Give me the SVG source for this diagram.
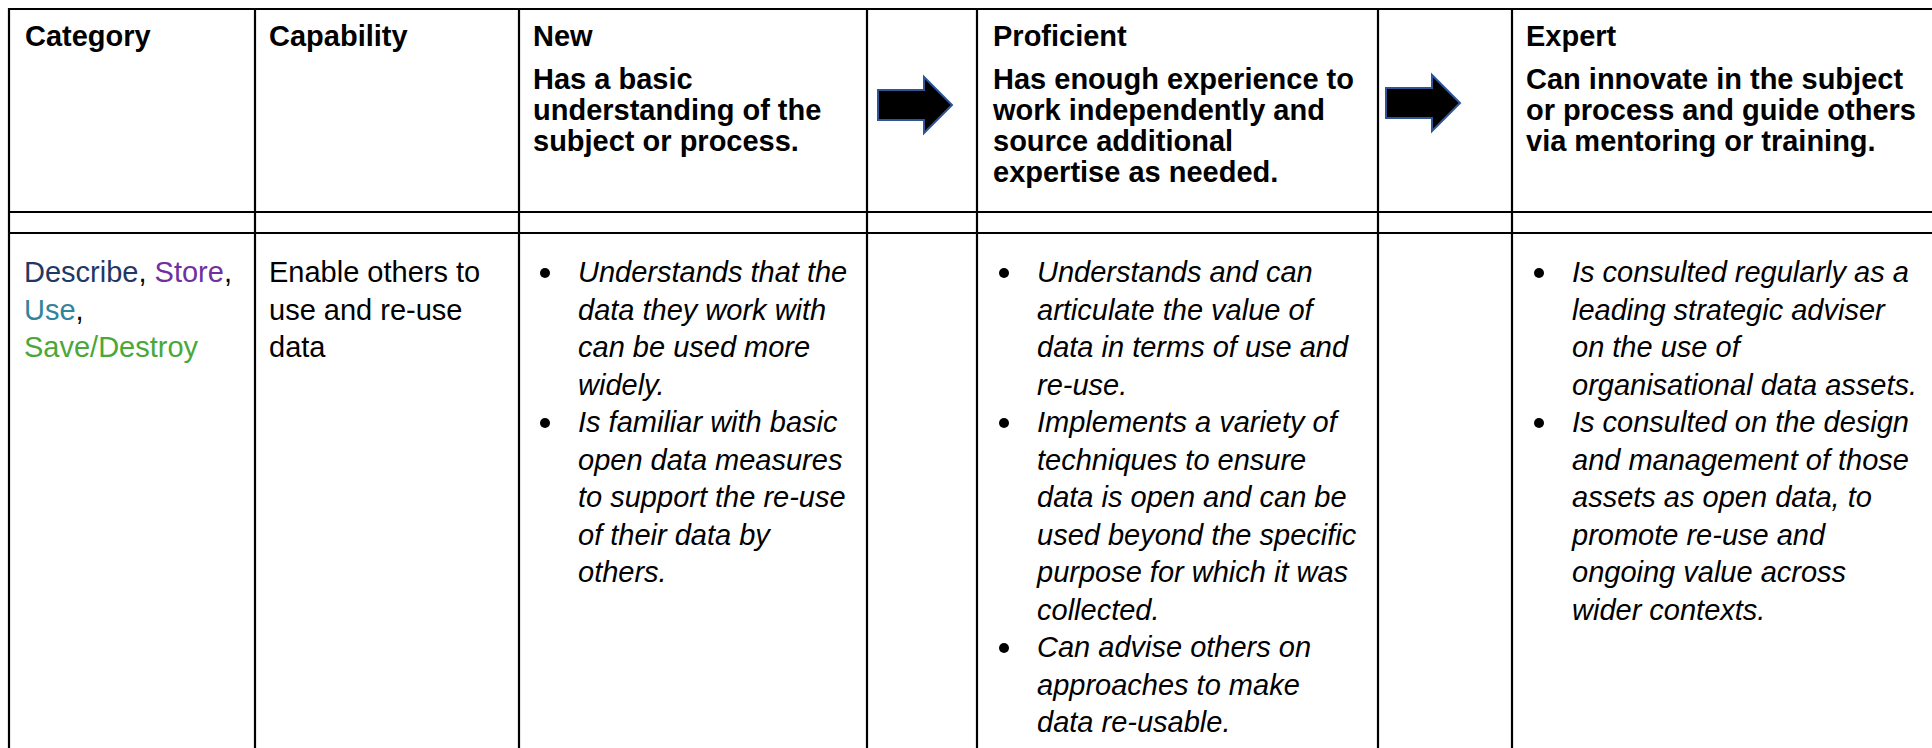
<svg xmlns="http://www.w3.org/2000/svg" width="1932" height="748" viewBox="0 0 1932 748">
<style>
text{font-family:"Liberation Sans",Arial,sans-serif;font-size:29px;fill:#000}
.h{font-weight:bold}
.b{font-style:italic}
.grid line{stroke:#000;stroke-width:2.2}
.arrow{fill:#000;stroke:#2F5597;stroke-width:2;stroke-linejoin:miter}
.dot{fill:#000}
</style>
<rect x="0" y="0" width="1932" height="748" fill="#fff"/>
<g class="grid" id="grid">
<line x1="9" y1="9" x2="1932" y2="9"/>
<line x1="9" y1="212" x2="1932" y2="212"/>
<line x1="9" y1="233" x2="1932" y2="233"/>
<line x1="9" y1="8" x2="9" y2="748"/>
<line x1="255" y1="8" x2="255" y2="748"/>
<line x1="519" y1="8" x2="519" y2="748"/>
<line x1="867" y1="8" x2="867" y2="748"/>
<line x1="977" y1="8" x2="977" y2="748"/>
<line x1="1378" y1="8" x2="1378" y2="748"/>
<line x1="1512" y1="8" x2="1512" y2="748"/>
</g>
<g id="header-category"><text class="h" x="25" y="46">Category</text></g>
<g id="header-capability"><text class="h" x="269" y="46">Capability</text></g>
<g id="header-new">
<text class="h" x="533" y="46">New</text>
<text class="h" x="533" y="89">Has a basic</text>
<text class="h" x="533" y="120">understanding of the</text>
<text class="h" x="533" y="151">subject or process.</text>
</g>
<g id="header-proficient">
<text class="h" x="993" y="46">Proficient</text>
<text class="h" x="993" y="89">Has enough experience to</text>
<text class="h" x="993" y="120">work independently and</text>
<text class="h" x="993" y="151">source additional</text>
<text class="h" x="993" y="182">expertise as needed.</text>
</g>
<g id="header-expert">
<text class="h" x="1526" y="46">Expert</text>
<text class="h" x="1526" y="89">Can innovate in the subject</text>
<text class="h" x="1526" y="120">or process and guide others</text>
<text class="h" x="1526" y="151">via mentoring or training.</text>
</g>
<g id="cell-category">
<text x="24" y="282"><tspan fill="#1F3864">Describe</tspan>, <tspan fill="#7030A0">Store</tspan>,</text>
<text x="24" y="319.5"><tspan fill="#31849B">Use</tspan>,</text>
<text x="24" y="357"><tspan fill="#4AA83A">Save/Destroy</tspan></text>
</g>
<g id="cell-capability">
<text x="269" y="282">Enable others to</text>
<text x="269" y="319.5">use and re-use</text>
<text x="269" y="357">data</text>
</g>
<g id="cell-new">
<circle class="dot" cx="545" cy="273" r="5"/>
<text class="b" x="578" y="282">Understands that the</text>
<text class="b" x="578" y="319.5">data they work with</text>
<text class="b" x="578" y="357">can be used more</text>
<text class="b" x="578" y="394.5">widely.</text>
<circle class="dot" cx="545" cy="423" r="5"/>
<text class="b" x="578" y="432">Is familiar with basic</text>
<text class="b" x="578" y="469.5">open data measures</text>
<text class="b" x="578" y="507">to support the re-use</text>
<text class="b" x="578" y="544.5">of their data by</text>
<text class="b" x="578" y="582">others.</text>
</g>
<g id="cell-proficient">
<circle class="dot" cx="1004" cy="273" r="5"/>
<text class="b" x="1037" y="282">Understands and can</text>
<text class="b" x="1037" y="319.5">articulate the value of</text>
<text class="b" x="1037" y="357">data in terms of use and</text>
<text class="b" x="1037" y="394.5">re-use.</text>
<circle class="dot" cx="1004" cy="423" r="5"/>
<text class="b" x="1037" y="432">Implements a variety of</text>
<text class="b" x="1037" y="469.5">techniques to ensure</text>
<text class="b" x="1037" y="507">data is open and can be</text>
<text class="b" x="1037" y="544.5">used beyond the specific</text>
<text class="b" x="1037" y="582">purpose for which it was</text>
<text class="b" x="1037" y="619.5">collected.</text>
<circle class="dot" cx="1004" cy="648" r="5"/>
<text class="b" x="1037" y="657">Can advise others on</text>
<text class="b" x="1037" y="694.5">approaches to make</text>
<text class="b" x="1037" y="732">data re-usable.</text>
</g>
<g id="cell-expert">
<circle class="dot" cx="1539" cy="273" r="5"/>
<text class="b" x="1572" y="282">Is consulted regularly as a</text>
<text class="b" x="1572" y="319.5">leading strategic adviser</text>
<text class="b" x="1572" y="357">on the use of</text>
<text class="b" x="1572" y="394.5">organisational data assets.</text>
<circle class="dot" cx="1539" cy="423" r="5"/>
<text class="b" x="1572" y="432">Is consulted on the design</text>
<text class="b" x="1572" y="469.5">and management of those</text>
<text class="b" x="1572" y="507">assets as open data, to</text>
<text class="b" x="1572" y="544.5">promote re-use and</text>
<text class="b" x="1572" y="582">ongoing value across</text>
<text class="b" x="1572" y="619.5">wider contexts.</text>
</g>
<g id="connectors">
<path class="arrow" d="M878,90 L924,90 L924,77 L952,105 L924,133 L924,120 L878,120 Z"/>
<path class="arrow" d="M1386,88 L1432,88 L1432,75 L1460,103 L1432,131 L1432,118 L1386,118 Z"/>
</g>
</svg>
